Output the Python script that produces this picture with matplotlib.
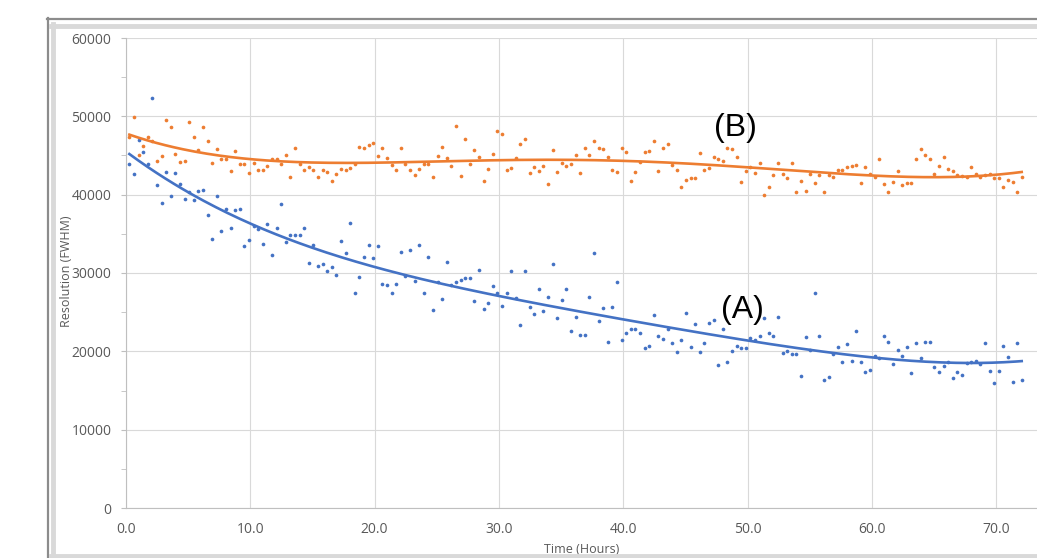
import numpy as np
import matplotlib.pyplot as plt
from matplotlib.lines import Line2D

# sampling: 195 measurements, one every ~0.37 h, from 0.27 h to 72.06 h
first_hour = 0.27
last_hour = 72.06
n_samples = 195

# resolution (FWHM) of series B (orange)
res_b = [47300, 49900, 45000, 46200, 47400, 46800, 44300, 44900, 49500, 48700,
         45200, 44200, 44300, 49300, 47400, 45700, 48600, 46800, 44100, 45800,
         44600, 44600, 43000, 45600, 43900, 43900, 42800, 44000, 43200, 43200,
         43700, 44600, 44500, 43900, 45100, 42200, 46000, 43900, 43100, 43500,
         43100, 42200, 43200, 42900, 41800, 42700, 43300, 43100, 43400, 43900,
         46100, 45900, 46400, 46600, 44900, 45900, 44700, 43800, 43100, 45900,
         43900, 43100, 42500, 43300, 43900, 43900, 42200, 44900, 46100, 44700,
         43600, 48800, 42400, 47100, 43900, 45700, 44800, 41800, 43300, 45200,
         48100, 47700, 43100, 43400, 44700, 46500, 47100, 42800, 43500, 43000,
         43600, 41300, 45700, 42900, 44000, 43600, 43900, 45100, 42800, 45900,
         45100, 46800, 45900, 45800, 44800, 43100, 42900, 46000, 45400, 41700,
         42900, 44200, 45400, 45600, 46800, 43000, 46000, 46500, 43800, 43100,
         41000, 41900, 42100, 42100, 45300, 43100, 43400, 44800, 44600, 44300,
         46000, 45800, 44800, 41600, 43000, 43500, 42800, 44100, 39900, 41000,
         42500, 44000, 42700, 42100, 44000, 40400, 41800, 40500, 42700, 41500,
         42500, 40400, 42500, 42300, 43100, 43100, 43500, 43600, 43800, 41500,
         43500, 42600, 42200, 44500, 41300, 40300, 41600, 43000, 41200, 41500,
         41500, 44600, 45800, 45100, 44500, 42600, 43700, 44800, 43300, 43000,
         42500, 42400, 42200, 43500, 42600, 42200, 42500, 42600, 42100, 42100,
         41000, 41900, 41600, 40300, 42300]

# resolution (FWHM) of series A (blue)
res_a = [43900, 42700, 47000, 45400, 43900, 52400, 41200, 38900, 42900, 39800,
         42800, 41300, 39500, 40400, 39300, 40500, 40600, 37400, 34300, 39800,
         35400, 38200, 35800, 38100, 38200, 33500, 34200, 36000, 35600, 33700,
         36200, 32300, 35700, 38800, 33900, 34800, 34900, 34900, 35800, 31300,
         33600, 30900, 31200, 30300, 30800, 29700, 34100, 32600, 36400, 27400,
         29500, 32000, 33600, 31900, 33500, 28600, 28500, 27500, 28600, 32700,
         29600, 32900, 29000, 33600, 27500, 32000, 25300, 28900, 26700, 31400,
         28500, 28900, 29100, 29300, 29400, 26400, 30400, 25400, 26200, 28300,
         27400, 25800, 27400, 30300, 26800, 23300, 30300, 25700, 24800, 27900,
         25200, 26900, 31200, 24200, 26600, 27900, 22600, 24400, 22100, 22100,
         27000, 32500, 23900, 25500, 21200, 25700, 28800, 21500, 22300, 22900,
         22800, 22300, 20400, 20700, 24700, 22000, 21600, 22900, 21100, 19900,
         21400, 24900, 20500, 23500, 19900, 21100, 23600, 24000, 18200, 22900,
         18600, 20000, 20700, 20400, 20400, 21700, 21500, 21900, 24300, 22300,
         22000, 24400, 19800, 20100, 19600, 19700, 16900, 21800, 20200, 27400,
         22000, 16400, 16700, 19600, 20600, 18700, 21000, 18800, 22600, 18700,
         17400, 17600, 19400, 19100, 21900, 21200, 18400, 20200, 19400, 20500,
         17200, 21100, 19100, 21200, 21200, 18000, 17400, 18100, 18700, 16600,
         17400, 17000, 18500, 18700, 18800, 18400, 21100, 17500, 16000, 17500,
         20700, 19300, 16100, 21100, 16400]

x_ticks = [0, 10, 20, 30, 40, 50, 60, 70]
y_ticks = [0, 10000, 20000, 30000, 40000, 50000, 60000]

blue = '#4472C4'
orange = '#ED7D31'
grid_c = '#D9D9D9'
text_c = '#595959'

hours = np.linspace(first_hour, last_hour, n_samples)
res_a = np.array(res_a)
res_b = np.array(res_b)

W, H = 1037, 558
fig = plt.figure(figsize=(W / 100, H / 100), dpi=100)

def fx(p):
    return p / W

def fy(p):
    return 1 - p / H

ax = fig.add_axes([fx(126), fy(508), fx(1037) - fx(126), fy(38) - fy(508)])

# chart frame (cropped on right side)
fig.add_artist(Line2D([fx(47.5), fx(47.5)], [fy(18), fy(558)], color='#8C8C8C', lw=1.6, transform=fig.transFigure))
fig.add_artist(Line2D([fx(47), fx(1037)], [fy(18.5), fy(18.5)], color='#8C8C8C', lw=1.6, transform=fig.transFigure))
fig.add_artist(Line2D([fx(53), fx(53)], [fy(24), fy(558)], color=grid_c, lw=3.5, transform=fig.transFigure))
fig.add_artist(Line2D([fx(51), fx(1037)], [fy(26), fy(26)], color=grid_c, lw=3.5, transform=fig.transFigure))
fig.add_artist(Line2D([fx(51), fx(1037)], [fy(555.5), fy(555.5)], color=grid_c, lw=3.5, transform=fig.transFigure))

ax.scatter(hours, res_b, s=7, color=orange, zorder=3, linewidths=0)
ax.scatter(hours, res_a, s=7, color=blue, zorder=3, linewidths=0)

# polynomial trendlines
xs = np.linspace(hours[0], hours[-1], 300)
fit_a = np.poly1d(np.polyfit(hours, res_a, 4))
fit_b = np.poly1d(np.polyfit(hours, res_b, 4))
ax.plot(xs, fit_b(xs), color=orange, lw=1.9, zorder=4)
ax.plot(xs, fit_a(xs), color=blue, lw=1.9, zorder=4)

ax.text(49.0, 48500, '(B)', fontsize=23, family='Liberation Sans', ha='center', va='center', zorder=5)
ax.text(49.6, 25300, '(A)', fontsize=23, family='Liberation Sans', ha='center', va='center', zorder=5)

ax.set_xlim(0, (1037 - 126) / 12.43)
ax.set_ylim(0, 60000)
ax.set_xticks(x_ticks)
ax.set_xticklabels(['%.1f' % v for v in x_ticks])
ax.set_yticks(y_ticks)
ax.set_yticks(np.arange(5000, 60000, 10000), minor=True)
ax.grid(True, color=grid_c, lw=0.8, zorder=0)
ax.set_axisbelow(True)

for s in ['top', 'right']:
    ax.spines[s].set_visible(False)
for s in ['left', 'bottom']:
    ax.spines[s].set_color('#BFBFBF')
    ax.spines[s].set_linewidth(0.8)

ax.tick_params(axis='x', length=0, pad=10, labelsize=10, labelcolor=text_c)
ax.tick_params(axis='y', which='both', length=3.5, color='#BFBFBF', pad=7, labelsize=10, labelcolor=text_c)
for lab in ax.get_xticklabels() + ax.get_yticklabels():
    lab.set_family('Open Sans')

ax.set_xlabel('Time (Hours)', fontsize=9, color=text_c, family='Open Sans')
ax.set_ylabel('Resolution (FWHM)', fontsize=9, color=text_c, family='Open Sans')
ax.xaxis.set_label_coords((582 - 126) / 911, (508 - 543) / 470)
ax.yaxis.set_label_coords((73 - 126) / 911, 0.5 - (271 - 273) / 470)

fig.savefig('out.png', dpi=100)
